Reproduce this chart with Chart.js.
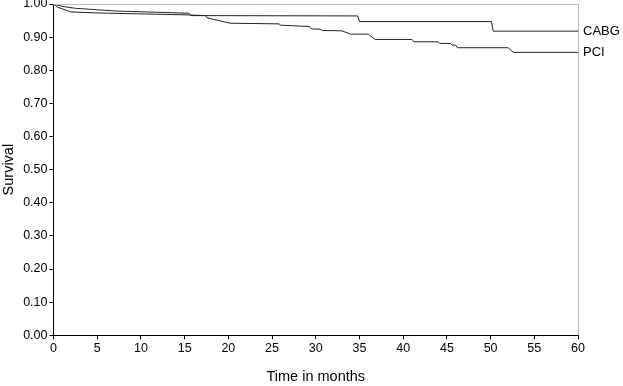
<!DOCTYPE html>
<html>
<head>
<meta charset="utf-8">
<script src="https://cdn.jsdelivr.net/npm/chart.js@4.4.0/dist/chart.umd.min.js"></script>
<style>
  html, body { margin: 0; padding: 0; background: #fff; }
  #wrap { width: 623px; height: 386px; }
</style>
</head>
<body>
<div id="wrap"><canvas id="survival-chart"></canvas></div>
<script>
// Kaplan-Meier survival, CABG vs PCI
const seriesNames = ["CABG", "PCI"];

const cabgMonths   = [0, 1, 2.5, 7, 15.5, 15.7, 34.8, 35.0, 50.1, 50.3, 60];
const cabgSurvival = [1.0, 0.993, 0.987, 0.979, 0.972, 0.965, 0.964, 0.947, 0.947, 0.918, 0.918];

const pciMonths   = [0, 0.5, 2, 5, 15.5, 17.4, 17.6, 20.2, 25.8, 26.0, 27.7, 29.3, 29.5, 30.5, 30.8, 33.0, 34.0, 36.0, 36.8, 41.0, 41.2, 44.0, 44.2, 45.4, 45.6, 46.0, 46.2, 52.0, 52.6, 60];
const pciSurvival = [1.0, 0.990, 0.976, 0.973, 0.967, 0.965, 0.958, 0.942, 0.940, 0.936, 0.934, 0.932, 0.925, 0.924, 0.920, 0.919, 0.909, 0.909, 0.893, 0.893, 0.886, 0.886, 0.881, 0.881, 0.876, 0.876, 0.868, 0.868, 0.854, 0.854];

const xTicks = [0, 5, 10, 15, 20, 25, 30, 35, 40, 45, 50, 55, 60];
const yTicks = [0, 0.1, 0.2, 0.3, 0.4, 0.5, 0.6, 0.7, 0.8, 0.9, 1.0];

const toPoints = (xs, ys) => xs.map((x, i) => ({ x: x, y: ys[i] }));

// grey frame on top/right and the end-of-line labels
const frameAndLabels = {
  id: "frameAndLabels",
  afterDraw(chart) {
    const ctx = chart.ctx;
    const a = chart.chartArea;
    ctx.save();
    ctx.strokeStyle = "#b8b8b8";
    ctx.lineWidth = 1;
    ctx.beginPath();
    ctx.moveTo(a.left, a.top + 0.5);
    ctx.lineTo(a.right + 0.5, a.top + 0.5);
    ctx.lineTo(a.right + 0.5, a.bottom);
    ctx.stroke();

    ctx.fillStyle = "#000";
    ctx.font = "13px 'Liberation Sans', Arial, sans-serif";
    ctx.textBaseline = "middle";
    ctx.textAlign = "left";
    chart.data.datasets.forEach(ds => {
      const last = ds.data[ds.data.length - 1];
      const y = chart.scales.y.getPixelForValue(last.y);
      ctx.fillText(ds.label, a.right + 5, y);
    });
    ctx.restore();
  }
};

const canvas = document.getElementById("survival-chart");

new Chart(canvas, {
  type: "line",
  data: {
    datasets: [
      {
        label: seriesNames[0],
        data: toPoints(cabgMonths, cabgSurvival),
        borderColor: "#222",
        borderWidth: 1,
        pointRadius: 0,
        tension: 0
      },
      {
        label: seriesNames[1],
        data: toPoints(pciMonths, pciSurvival),
        borderColor: "#222",
        borderWidth: 1,
        pointRadius: 0,
        tension: 0
      }
    ]
  },
  options: {
    responsive: true,
    maintainAspectRatio: false,
    animation: false,
    layout: { padding: { left: 0, right: 45, top: 4, bottom: 0 } },
    plugins: {
      legend: { display: false },
      tooltip: { enabled: false }
    },
    scales: {
      x: {
        type: "linear",
        min: 0,
        max: 60,
        afterBuildTicks: s => { s.ticks = xTicks.map(v => ({ value: v })); },
        ticks: {
          color: "#000",
          font: { family: "'Liberation Sans', Arial, sans-serif", size: 12.5 },
          padding: 2,
          maxRotation: 0
        },
        grid: { drawOnChartArea: false, drawTicks: true, tickLength: 4, color: "#000" },
        border: { color: "#000", width: 1 },
        title: {
          display: true,
          text: "Time in months",
          color: "#000",
          font: { family: "'Liberation Sans', Arial, sans-serif", size: 14.5 },
          padding: { top: 18, bottom: 0 }
        },
        afterFit: s => { s.height = 50.7; }
      },
      y: {
        type: "linear",
        min: 0,
        max: 1,
        afterBuildTicks: s => { s.ticks = yTicks.map(v => ({ value: v })); },
        ticks: {
          color: "#000",
          font: { family: "'Liberation Sans', Arial, sans-serif", size: 12.5 },
          padding: 2,
          callback: v => v.toFixed(2)
        },
        grid: { drawOnChartArea: false, drawTicks: true, tickLength: 4, color: "#000" },
        border: { color: "#000", width: 1 },
        title: {
          display: true,
          text: "Survival",
          color: "#000",
          font: { family: "'Liberation Sans', Arial, sans-serif", size: 14.5 },
          padding: { top: 0, bottom: 0 }
        },
        afterFit: s => { s.width = 53.5; s.paddingTop = 0; s.paddingBottom = 0; }
      }
    }
  },
  plugins: [frameAndLabels]
});
</script>
</body>
</html>
